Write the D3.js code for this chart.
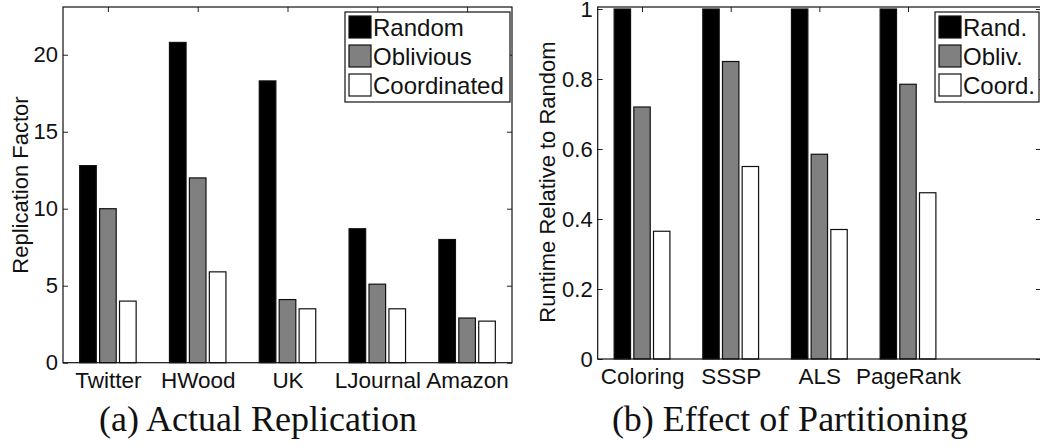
<!DOCTYPE html>
<html>
<head>
<meta charset="utf-8">
<script src="https://cdn.jsdelivr.net/npm/d3@7"></script>
<style>
  body { margin: 0; background: #fff; }
  svg { display: block; }
  .tick line { stroke: #222; }
  .sans { font-family: "Liberation Sans", Arial, Helvetica, sans-serif; fill: #111; }
</style>
</head>
<body>
<script>
// (a) Actual Replication
var groupsA = ["Twitter", "HWood", "UK", "LJournal", "Amazon"];
var seriesA = ["Random", "Oblivious", "Coordinated"];
var randomA = [12.8, 20.8, 18.3, 8.7, 8.0];
var obliviousA = [10.0, 12.0, 4.1, 5.1, 2.9];
var coordinatedA = [4.0, 5.9, 3.5, 3.5, 2.7];
var yTicksA = [0, 5, 10, 15, 20];

// (b) Effect of Partitioning
var groupsB = ["Coloring", "SSSP", "ALS", "PageRank"];
var seriesB = ["Rand.", "Obliv.", "Coord."];
var randomB = [1, 1, 1, 1];
var obliviousB = [0.72, 0.85, 0.585, 0.785];
var coordinatedB = [0.365, 0.55, 0.37, 0.475];
var yTicksB = [0, 0.2, 0.4, 0.6, 0.8, 1];

var fills = ["#000000", "#808080", "#ffffff"];
var offsets = [-0.222, 0, 0.222];   // bar offset inside a group, in x units
var barW = 0.185;                   // bar width, in x units

var svg = d3.select("body").append("svg")
    .attr("width", 1040)
    .attr("height", 448);

function drawPanel(o) {
  var x = d3.scaleLinear().domain([0.5, 5.5]).range([o.left, o.right]);
  var y = d3.scaleLinear().domain(o.yDomain).range([o.bottom, o.yTopPx]);
  var g = svg.append("g");
  var cats = o.groups.map(function(d, i) { return i + 1; });

  // bars
  var series = [o.s1, o.s2, o.s3];
  series.forEach(function(vals, k) {
    g.selectAll(".bar" + k)
      .data(vals)
      .enter().append("rect")
        .attr("x", function(d, i) { return x(i + 1 + offsets[k] - barW / 2); })
        .attr("width", function() { return x(barW) - x(0); })
        .attr("y", function(d) { return Math.max(y(d), o.top); })
        .attr("height", function(d) { return o.bottom - Math.max(y(d), o.top); })
        .attr("fill", fills[k])
        .attr("stroke", "#111")
        .attr("stroke-width", 1.2);
  });

  // axes, ticks pointing inward like matlab
  var left = g.append("g").attr("transform", "translate(" + o.left + ",0)")
    .call(d3.axisLeft(y).tickValues(o.yTicks).tickSize(-5).tickPadding(5)
      .tickFormat(function(d) { return d3.format("")(d); }));
  left.select(".domain").remove();
  left.selectAll("text").attr("class", "sans").style("font-size", "22px");

  var right = g.append("g").attr("transform", "translate(" + o.right + ",0)")
    .call(d3.axisRight(y).tickValues(o.yTicks).tickSize(-5).tickFormat(""));
  right.select(".domain").remove();

  var top = g.append("g").attr("transform", "translate(0," + o.top + ")")
    .call(d3.axisTop(x).tickValues(cats).tickSize(-5).tickFormat(""));
  top.select(".domain").remove();

  var bottom = g.append("g").attr("transform", "translate(0," + o.bottom + ")")
    .call(d3.axisBottom(x).tickValues(cats).tickSize(0).tickPadding(9)
      .tickFormat(function(d) { return o.groups[d - 1]; }));
  bottom.select(".domain").remove();
  bottom.selectAll("text").attr("class", "sans").style("font-size", "22.5px");

  // box
  g.append("rect")
    .attr("x", o.left).attr("y", o.top)
    .attr("width", o.right - o.left).attr("height", o.bottom - o.top)
    .attr("fill", "none").attr("stroke", "#111").attr("stroke-width", 1.2);

  // y label
  g.append("text")
    .attr("class", "sans")
    .attr("transform", "translate(" + o.ylabX + "," + o.ylabY + ") rotate(-90)")
    .attr("text-anchor", "middle")
    .style("font-size", "22px")
    .text(o.ylabel);

  // legend
  var lg = g.append("g");
  lg.append("rect")
    .attr("x", o.legX).attr("y", 12)
    .attr("width", o.legW).attr("height", 90)
    .attr("fill", "#fff").attr("stroke", "#111").attr("stroke-width", 1.2);
  var items = lg.selectAll(".item").data(o.names).enter().append("g")
    .attr("transform", function(d, i) { return "translate(" + (o.legX + 4) + "," + (16 + i * 29) + ")"; });
  items.append("rect")
    .attr("width", 22).attr("height", 22)
    .attr("fill", function(d, i) { return fills[i]; })
    .attr("stroke", "#111").attr("stroke-width", 1.2);
  items.append("text")
    .attr("class", "sans")
    .attr("x", 24).attr("y", 19.5)
    .style("font-size", "24px")
    .text(function(d) { return d; });

  // caption
  svg.append("text")
    .attr("x", o.capX).attr("y", 431)
    .attr("text-anchor", "middle")
    .style("font-family", "'Liberation Serif', 'Times New Roman', serif")
    .style("font-size", "36px")
    .attr("fill", "#111")
    .text(o.caption);
}

drawPanel({
  groups: groupsA, names: seriesA, s1: randomA, s2: obliviousA, s3: coordinatedA,
  yTicks: yTicksA, yDomain: [0, 23.1],
  left: 63, right: 512, top: 7, bottom: 362.7, yTopPx: 7,
  ylabel: "Replication Factor", ylabX: 28, ylabY: 185,
  legX: 345, legW: 165,
  caption: "(a) Actual Replication", capX: 258
});

drawPanel({
  groups: groupsB, names: seriesB, s1: randomB, s2: obliviousB, s3: coordinatedB,
  yTicks: yTicksB, yDomain: [0, 1],
  left: 597.7, right: 1041, top: 7, bottom: 359, yTopPx: 9,
  ylabel: "Runtime Relative to Random", ylabX: 555, ylabY: 182,
  legX: 935, legW: 104,
  caption: "(b) Effect of Partitioning", capX: 790
});
</script>
</body>
</html>
